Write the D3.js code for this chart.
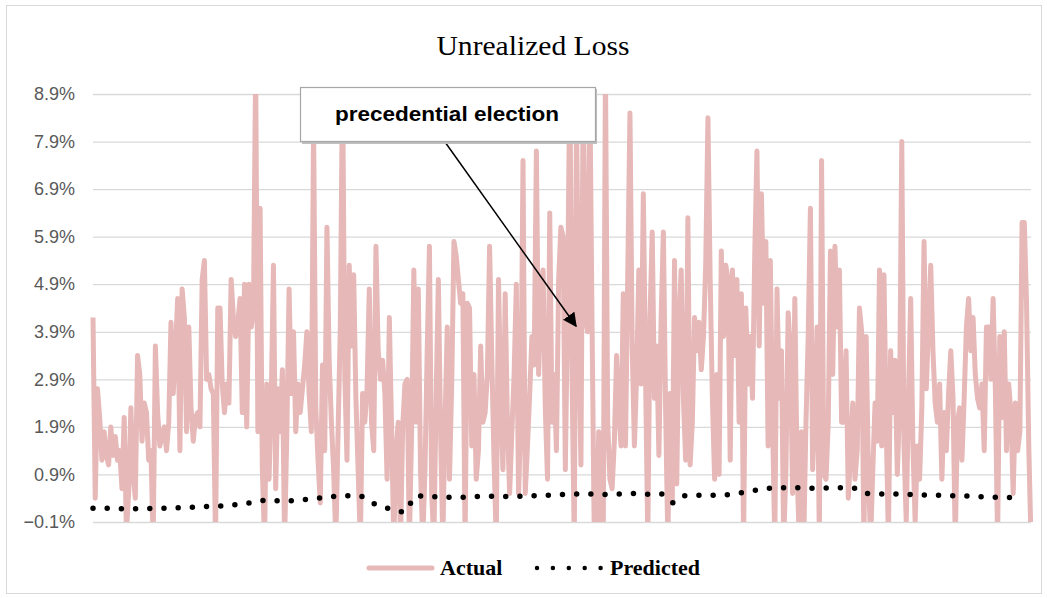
<!DOCTYPE html>
<html lang="en">
<head>
    <title>Unrealized Loss</title>
    <meta charset="utf-8">
    <script src="https://d3js.org/d3.v7.min.js" charset="utf-8"></script>
	<style type="text/css">
body {
	margin: 0;
	background: white;
}
.tick text {
	font-family: "Liberation Sans", Arial, sans-serif;
	font-size: 18px;
	fill: #595959;
}
</style>
</head>
<body>
<div id="my_dataviz"></div>
<script>

// actual unrealized loss (%) left to right
var actual = [
  4.2, 0.4, 2.7, 2.1, 1.2, 1.8, 1.3, 1.1, 1.9, 1.3, 1.7, 1.2, 1.4, 0.6, 2.1, -0.3, 0.5, 2.3, 0.9, 0.4, 3.4,
  3.0, 1.6, 2.4, 2.2, 1.2, 1.4, -0.5, 3.6, 2.2, 1.5, 1.7, 1.9, 1.4, 2.0, 4.1, 2.6, 3.5, 4.6, 1.4, 4.8, 4.2, 1.8,
  4.0, 2.3, 1.6, 2.1, 2.2, 1.9, 5.0, 5.4, 2.9, 3.0, 2.7, 2.6, -0.5, 4.4, 4.4, 2.8, 2.2, 2.8, 2.4, 5.0, 4.2,
  3.8, 4.1, 4.6, 2.2, 4.9,
  1.9, 4.9, 4.0, 4.3, 9.5, 1.8, 6.5, 1.0, -0.5, 2.8, 0.8, 2.5, 5.3, 0.6, 2.7, 1.8, 3.1, -0.5, 1.8, 4.8,
  2.6, 3.9, 1.8, 2.8, 2.2, 2.7, 3.2, 3.9, 2.6, 1.8, 8.2, 2.3, 1.2, 0.3, 3.2, 1.4, 6.1, 3.3, 2.0, 1.0, -0.5, 1.8, 4.0,
  9.3, 3.0, 1.2, 5.3, 3.6, 5.1, 2.5, 1.0, -0.5, 2.6, 2.0, 2.7, 4.8, 2.0, 1.4, 5.7, 3.5, 2.9, 3.3, 2.6,
  0.8, 4.2, 1.9, -0.5, 1.4, 2.0, -0.5, 1.9, 2.8,
  2.9, -0.5, 1.8, 5.2, 2.0, 4.8, 1.0, -0.5, 1.0, 3.5, 5.7, 0.5, -0.5, 2.5, 5.0, 1.8, -0.5, 2.0, 4.0, 0.8,
  2.8, 5.8, 5.5, 5.0, 4.5, 4.7, -0.5, 4.5, 4.4, 1.5, 3.0, 0.8, 1.4, 3.6, 2.0, 2.2, 3.0, 5.7, 3.3, 1.2, -0.5,
  5.0, 2.5, 1.0, 4.7, 2.0, 0.5, 1.8, 3.0, 4.9, 0.5, 2.0, 7.5, 0.5, 1.5, 2.6, 3.8, 3.2, 7.7, 3.0, 4.6, 5.2,
  2.3, 0.8, 6.4, 2.0, 3.0, 1.4, 5.0, 6.1, 5.9, 1.0, 4.5, 9.3, 3.0,
  -0.5, 8.5, 4.0, 1.1, 9.0, 4.2, 3.9, 9.0, 4.0, -0.5, -0.5, 1.8, 0.2, -0.5, 9.5, 2.0, 0.8, 0.6, 1.6, 3.4,
  2.2, 1.5, 4.7, 1.5, 5.1, 8.5, 3.6, 1.5, 3.0, 5.2, 2.8, 6.8, 3.0, -0.5, 4.2, 6.0, 2.5, 3.6, 1.3, 4.2, 6.0,
  2.3, -0.5, 2.6, 0.3, 5.4, 0.7, 4.1, 5.2, 2.5, 1.2, 6.3, 1.1, 2.0, 4.2, 3.5, 4.1, 3.1, 3.8, 5.3, 8.4, 5.0,
  2.5, 0.8, 3.0, 0.9, 5.6, 3.8, 5.3,
  5.0, 1.2, 5.2, 3.4, 5.0, 2.0, 4.7, -0.5, 4.4, 2.8, 3.8, 2.5, 5.5, 7.7, 3.6, 6.8, 4.5, 5.8, 1.5, 5.4,
  2.0, -0.5, 4.8, 2.5, 3.5, -0.5, 1.0, 4.3, 3.5, 0.5, 4.6, 1.0, -0.5, 1.8, -0.5, 2.0, 3.8, 6.5, 1.0, 2.3,
  4.0, -0.5, 7.5, 0.9, 0.8, 2.0, 5.6, 3.0, 5.7, 4.0, 5.2, 2.0, 2.0, 3.5, 0.4, 1.3, 2.4, 0.8, 1.4,
  4.4, 3.9, -0.5, 3.8, 1.0, -0.5, 1.0, 2.4, 1.6, 5.2,
  1.5, 5.1, 2.0, -0.5, 3.5, 2.2, 3.3, 0.9, 2.3, 7.9, 1.5, -0.1, 2.5, 4.6, 1.5, -0.1, 1.5, 0.8, 2.3, 5.8,
  2.7, 4.0, 5.3, 3.5, 2.4, 2.0, 2.8, 0.8, 2.2, 1.4, 2.6, 3.5, 2.5, -0.5, 2.0, 2.3, 1.2, 2.5, 4.0,
  4.6, 3.5, 4.2, 3.0, 2.5, 2.3, 2.8, 1.4, 4.0, 4.0, 2.9, 4.6, 2.7, -0.5, 3.8, 2.1, 3.9, 1.4,
  2.8, 2.2, 0.5, 2.4, 1.4, 1.8, 6.2, 6.2, 4.5, 1.5, -0.5
];

// predicted loss (%), one reading for about every 5th observation
var predicted = [
  0.19, 0.19, 0.18, 0.18, 0.18, 0.18, 0.19, 0.19, 0.20, 0.21, 0.22, 0.23, 0.24, 0.26,
  0.28, 0.32, 0.36, 0.35, 0.34, 0.36, 0.38, 0.40, 0.43, 0.45, 0.45, 0.44,
  0.30, 0.22, 0.15, 0.10,
  0.45, 0.44, 0.43, 0.42, 0.41, 0.43, 0.44, 0.44, 0.43, 0.44, 0.44, 0.45, 0.46, 0.47,
  0.48, 0.49, 0.49, 0.48, 0.48, 0.49, 0.50, 0.49, 0.48, 0.49,
  0.30,
  0.45, 0.46, 0.46, 0.46, 0.47,
  0.50, 0.54, 0.58, 0.61, 0.62, 0.62, 0.62, 0.61, 0.61, 0.62, 0.62, 0.61,
  0.50, 0.49, 0.49, 0.49, 0.48, 0.47, 0.47, 0.46, 0.45, 0.45, 0.44, 0.43, 0.42, 0.42, 0.41
];

// y axis tick labels
var yTicks = [-0.1, 0.9, 1.9, 2.9, 3.9, 4.9, 5.9, 6.9, 7.9, 8.9];

var seriesNames = ["Actual", "Predicted"];
var noteText = "precedential election";

var W = 1047, H = 598;
var margin = {top: 94, right: 16, bottom: 76, left: 93};
var width = W - margin.left - margin.right,
    height = H - margin.top - margin.bottom;

var pink = "#e6b8b7";

var svg = d3.select("#my_dataviz")
  .append("svg")
    .attr("width", W)
    .attr("height", H);

// chart area border
svg.append("rect")
  .attr("x", 6.5).attr("y", 5.5)
  .attr("width", W - 12).attr("height", H - 10)
  .attr("fill", "white")
  .attr("stroke", "#d9d9d9");

// title
svg.append("text")
  .attr("x", 533).attr("y", 55)
  .attr("text-anchor", "middle")
  .attr("font-family", "'Liberation Serif', 'Times New Roman', serif")
  .attr("font-size", 27)
  .attr("fill", "#000")
  .attr("textLength", 193)
  .attr("lengthAdjust", "spacingAndGlyphs")
  .text("Unrealized  Loss");

var g = svg.append("g")
  .attr("transform", "translate(" + margin.left + "," + margin.top + ")");

var x = d3.scaleLinear().domain([0, actual.length - 1]).range([0, width]);
var xp = d3.scaleLinear().domain([0, predicted.length - 1]).range([0, width - 14]);
var y = d3.scaleLinear().domain([-0.1, 8.9]).range([height, 0]);

// gridlines + labels
var yAxis = g.append("g")
  .call(d3.axisLeft(y)
    .tickValues(yTicks)
    .tickSize(-width)
    .tickPadding(18)
    .tickFormat(function(d) { return d3.format(".1f")(d) + "%"; }));
yAxis.select(".domain").remove();
yAxis.selectAll(".tick line").attr("stroke", "#d9d9d9").attr("stroke-width", 1.3);

// clip so spikes stop at the axis limits
g.append("clipPath").attr("id", "plotclip")
  .append("rect")
  .attr("x", -4).attr("y", 0)
  .attr("width", width + 8).attr("height", height);

var actualLine = d3.line()
  .x(function(d, i) { return x(i); })
  .y(function(d) { return y(d); });

g.append("path")
  .datum(actual)
  .attr("clip-path", "url(#plotclip)")
  .attr("fill", "none")
  .attr("stroke", pink)
  .attr("stroke-width", 5)
  .attr("stroke-linejoin", "round")
  .attr("d", actualLine);

var predLine = d3.line()
  .x(function(d, i) { return xp(i); })
  .y(function(d) { return y(d); });

g.append("path")
  .datum(predicted)
  .attr("fill", "none")
  .attr("stroke", "#000")
  .attr("stroke-width", 5.5)
  .attr("stroke-linecap", "round")
  .attr("stroke-dasharray", "0 14.2")
  .attr("d", predLine);

// annotation box and arrow
svg.append("defs").append("marker")
  .attr("id", "arrowhead")
  .attr("viewBox", "0 0 10 10")
  .attr("refX", 9).attr("refY", 5)
  .attr("markerWidth", 14).attr("markerHeight", 14)
  .attr("markerUnits", "userSpaceOnUse")
  .attr("orient", "auto")
  .append("path")
  .attr("d", "M0,0 L10,5 L0,10 z")
  .attr("fill", "#000");

svg.append("line")
  .attr("x1", 445).attr("y1", 142)
  .attr("x2", 576).attr("y2", 326)
  .attr("stroke", "#000")
  .attr("stroke-width", 1.5)
  .attr("marker-end", "url(#arrowhead)");

svg.append("rect")
  .attr("x", 302).attr("y", 89)
  .attr("width", 295).attr("height", 55)
  .attr("fill", "#bfbfbf");
svg.append("rect")
  .attr("x", 300.5).attr("y", 87.5)
  .attr("width", 295).attr("height", 54)
  .attr("fill", "white")
  .attr("stroke", "#a6a6a6")
  .attr("stroke-width", 1.2);

svg.append("text")
  .attr("x", 447).attr("y", 121)
  .attr("text-anchor", "middle")
  .attr("font-family", "'Liberation Sans', Arial, sans-serif")
  .attr("font-weight", "bold")
  .attr("font-size", 20)
  .attr("textLength", 224)
  .attr("lengthAdjust", "spacingAndGlyphs")
  .text(noteText);

// legend
var legend = svg.append("g").attr("transform", "translate(0,568)");

legend.append("line")
  .attr("x1", 369).attr("x2", 432)
  .attr("stroke", pink)
  .attr("stroke-width", 5)
  .attr("stroke-linecap", "round");

legend.append("line")
  .attr("x1", 537).attr("x2", 601)
  .attr("stroke", "#000")
  .attr("stroke-width", 4.5)
  .attr("stroke-linecap", "round")
  .attr("stroke-dasharray", "0 15.9");

legend.selectAll("text.lg")
  .data(seriesNames)
  .enter().append("text")
  .attr("class", "lg")
  .attr("x", function(d, i) { return i === 0 ? 440 : 610; })
  .attr("y", 7)
  .attr("font-family", "'Liberation Serif', 'Times New Roman', serif")
  .attr("font-weight", "bold")
  .attr("font-size", 22)
  .text(function(d) { return d; });

</script>
</body>
</html>
